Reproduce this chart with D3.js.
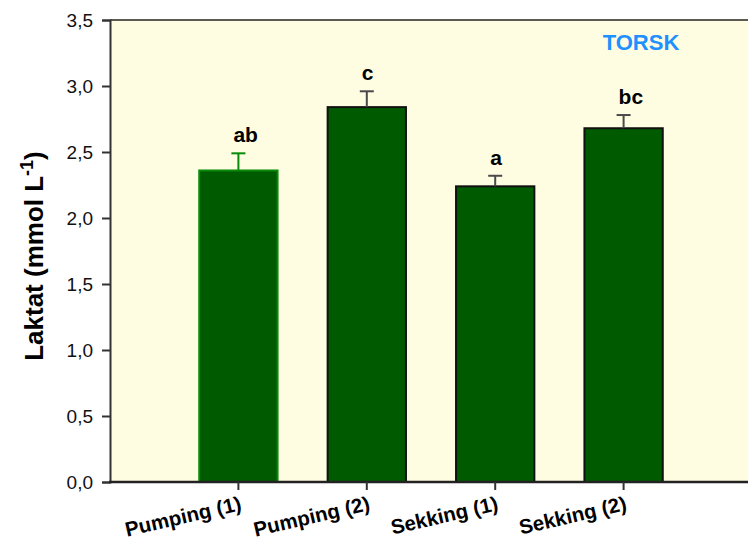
<!DOCTYPE html>
<html>
<head>
<meta charset="utf-8">
<script src="https://cdn.jsdelivr.net/npm/d3@7"></script>
<style>
  html, body { margin: 0; padding: 0; background: #ffffff; }
  svg { display: block; font-family: Arial, "Liberation Sans", sans-serif; }
</style>
</head>
<body>
<svg id="chart" width="748" height="541"></svg>
<script>
// Lactate in cod (torsk) by handling method
const categories = ["Pumping (1)", "Pumping (2)", "Sekking (1)", "Sekking (2)"];
const means      = [2.36, 2.84, 2.24, 2.68];
const errors     = [0.13, 0.12, 0.08, 0.10];
const letters    = ["ab", "c", "a", "bc"];
const yTicks     = [0, 0.5, 1.0, 1.5, 2.0, 2.5, 3.0, 3.5];

const svg = d3.select("#chart");
const plotLeft = 110, plotTop = 20, plotBottom = 482;

// Category slots 1..4 on a 0..5 axis; the frame runs off the right edge
const x = d3.scaleLinear().domain([0, 5]).range([plotLeft, 752]);
const y = d3.scaleLinear().domain([0, 3.5]).range([plotBottom, plotTop]);
const barW = x(0.61) - x(0);

// plot background
svg.append("rect")
  .attr("x", plotLeft).attr("y", plotTop)
  .attr("width", 748 - plotLeft).attr("height", plotBottom - plotTop)
  .attr("fill", "#fffde1");

// top frame line
svg.append("line")
  .attr("x1", plotLeft).attr("x2", 748).attr("y1", plotTop).attr("y2", plotTop)
  .attr("stroke", "#5a5a50").attr("stroke-width", 2);

// bars
const data = categories.map((c, i) => ({ c, i, m: means[i], e: errors[i], l: letters[i] }));
const stroke = d => d.i === 0 ? "#0a8a0a" : "#111111";

svg.selectAll("rect.bar").data(data).enter().append("rect")
  .attr("class", "bar")
  .attr("x", d => x(d.i + 1) - barW / 2)
  .attr("y", d => y(d.m))
  .attr("width", barW)
  .attr("height", d => y(0) - y(d.m))
  .attr("fill", "#005a00")
  .attr("stroke", stroke)
  .attr("stroke-width", 2);

// upper error bars with caps
const capW = 14;
const eb = svg.selectAll("g.err").data(data).enter().append("g").attr("class", "err");
eb.append("line")
  .attr("x1", d => x(d.i + 1)).attr("x2", d => x(d.i + 1))
  .attr("y1", d => y(d.m)).attr("y2", d => y(d.m + d.e))
  .attr("stroke", d => d.i === 0 ? "#0a8a0a" : "#4a4a4a").attr("stroke-width", 2);
eb.append("line")
  .attr("x1", d => x(d.i + 1) - capW / 2).attr("x2", d => x(d.i + 1) + capW / 2)
  .attr("y1", d => y(d.m + d.e)).attr("y2", d => y(d.m + d.e))
  .attr("stroke", d => d.i === 0 ? "#0a8a0a" : "#4a4a4a").attr("stroke-width", 2);

// significance letters
svg.selectAll("text.letter").data(data).enter().append("text")
  .attr("class", "letter")
  .attr("x", d => x(d.i + 1) - 5)
  .attr("y", d => y(d.m + d.e) - 11)
  .attr("text-anchor", "start")
  .attr("font-size", 21).attr("font-weight", "bold")
  .attr("fill", "#000")
  .text(d => d.l);

// y axis
const yAxis = d3.axisLeft(y).tickValues(yTicks)
  .tickFormat(d => d3.format(".1f")(d).replace(".", ","))
  .tickSize(8).tickPadding(9);
const gy = svg.append("g").attr("transform", `translate(${plotLeft},0)`).call(yAxis);
gy.select(".domain").attr("stroke", "#333").attr("stroke-width", 2);
gy.selectAll(".tick line").attr("stroke", "#333").attr("stroke-width", 2);
gy.selectAll(".tick text").attr("font-size", 19).attr("fill", "#111")
  .attr("font-family", "Arial, 'Liberation Sans', sans-serif");

// x axis baseline and ticks
svg.append("line")
  .attr("x1", plotLeft - 1).attr("x2", 748).attr("y1", plotBottom).attr("y2", plotBottom)
  .attr("stroke", "#222").attr("stroke-width", 2.5);
svg.selectAll("line.xtick").data(data).enter().append("line")
  .attr("class", "xtick")
  .attr("x1", d => x(d.i + 1)).attr("x2", d => x(d.i + 1))
  .attr("y1", plotBottom).attr("y2", plotBottom + 8)
  .attr("stroke", "#333").attr("stroke-width", 2);

// rotated category labels
svg.selectAll("text.xlab").data(data).enter().append("text")
  .attr("class", "xlab")
  .attr("transform", d => `translate(${x(d.i + 1) + 4},${plotBottom + 28}) rotate(-13)`)
  .attr("text-anchor", "end")
  .attr("font-size", 20.5).attr("font-weight", "bold")
  .attr("fill", "#000")
  .text(d => d.c);

// y axis title with superscript
const yt = svg.append("text")
  .attr("transform", `translate(43,256) rotate(-90)`)
  .attr("text-anchor", "middle")
  .attr("font-size", 26).attr("font-weight", "bold")
  .attr("fill", "#000");
yt.append("tspan").text("Laktat (mmol L");
yt.append("tspan").attr("dy", -10).attr("font-size", 18).text("-1");
yt.append("tspan").attr("dy", 10).text(")");

// species tag
svg.append("text")
  .attr("x", 641).attr("y", 50)
  .attr("text-anchor", "middle")
  .attr("font-size", 22).attr("font-weight", "bold")
  .attr("fill", "#1e90ff")
  .text("TORSK");
</script>
</body>
</html>
